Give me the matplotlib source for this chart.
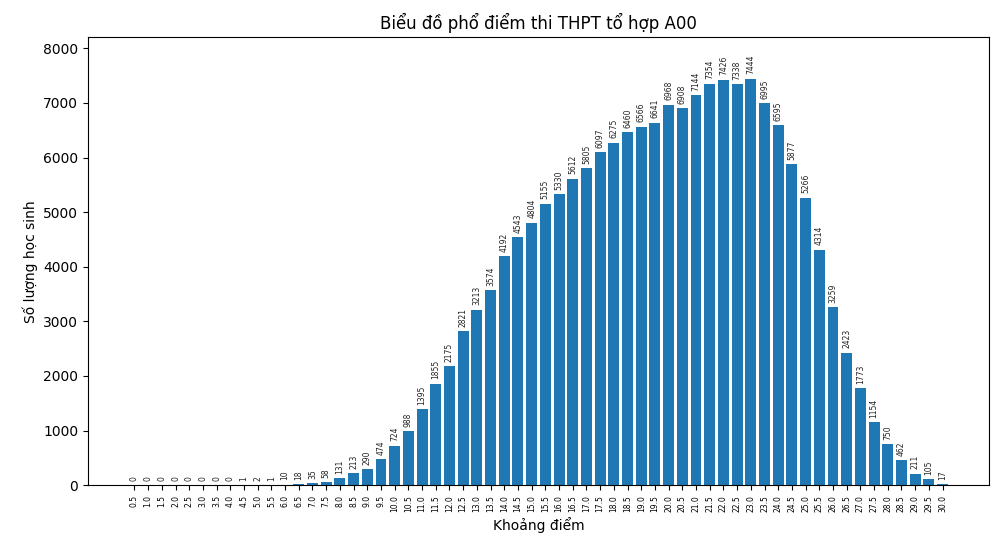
import matplotlib
matplotlib.use("Agg")
import matplotlib.pyplot as plt

scores = [f"{i*0.5:.1f}" for i in range(1, 61)]
counts = [0, 0, 0, 0, 0, 0, 0, 0, 1, 2,
          1, 10, 18, 35, 58, 131, 213, 290, 474, 724,
          988, 1395, 1855, 2175, 2821, 3213, 3574, 4192, 4543, 4804,
          5155, 5330, 5612, 5805, 6097, 6275, 6460, 6566, 6641, 6968,
          6908, 7144, 7354, 7426, 7338, 7444, 6995, 6595, 5877, 5266,
          4314, 3259, 2423, 1773, 1154, 750, 462, 211, 105, 17]

fig, ax = plt.subplots(figsize=(10, 5.5), dpi=100)
bars = ax.bar(scores, counts, color="#1f77b4")
for b, v in zip(bars, counts):
    ax.text(b.get_x() + b.get_width() / 2, v + 80, str(v), ha="center", va="bottom",
            rotation=90, fontsize=5.5, color="#222222")
ax.set_title("Biểu đồ phổ điểm thi THPT tổ hợp A00", fontsize=12)
ax.set_xlabel("Khoảng điểm", fontsize=10)
ax.set_ylabel("Số lượng học sinh", fontsize=10)
ax.tick_params(axis="x", labelrotation=90, labelsize=5.5)
ax.tick_params(axis="y", labelsize=10)
ax.set_ylim(0, 8200)
fig.subplots_adjust(left=0.088, right=0.989, top=0.932, bottom=0.118)
fig.savefig("out.png", dpi=100)
